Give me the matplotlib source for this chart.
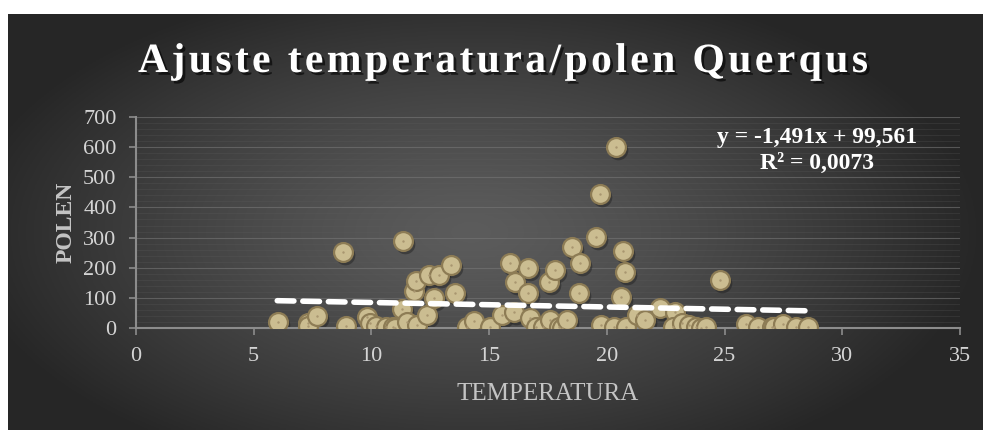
import numpy as np
import matplotlib
matplotlib.use("Agg")
import matplotlib.pyplot as plt
import matplotlib.patheffects as pe
from matplotlib import transforms

# valores (temperatura, polen)
temperatura = [6.05, 7.3, 7.3, 7.7, 8.8, 8.9, 9.8, 9.95, 10.2, 10.6, 10.9, 11.0,
               11.3, 11.35, 11.5, 11.8, 11.9, 11.95, 12.35, 12.45, 12.65, 12.85,
               13.4, 13.55, 14.05, 14.35, 15.05, 15.55, 15.9, 16.1, 16.05, 16.65,
               16.65, 16.75, 17.0, 17.3, 17.55, 17.6, 17.8, 17.95, 18.1, 18.3,
               18.5, 18.85, 18.8, 19.55, 19.7, 19.75, 20.3, 20.4, 20.7, 20.6,
               20.75, 20.8, 21.3, 21.6, 22.25, 22.9, 22.8, 23.2, 23.5, 23.8,
               24.0, 24.2, 24.8, 25.9, 26.4, 27.0, 27.1, 27.5, 28.05, 28.55]
polen = [20, 15, 5, 40, 253, 5, 37, 18, 8, 2, 4, 0,
         62, 288, 20, 123, 156, 10, 43, 176, 99, 176,
         209, 115, 2, 24, 4, 43, 215, 154, 52, 198,
         115, 32, 4, 4, 154, 27, 192, 4, 0, 27,
         270, 215, 115, 301, 445, 10, 4, 600, 256, 104,
         187, 4, 43, 27, 65, 54, 2, 18, 10, 4,
         0, 2, 159, 12, 4, 4, 2, 12, 2, 4]

pendiente = -1.491
ordenada = 99.561
x_tend = [6.0, 28.7]

titulo = "Ajuste temperatura/polen Querqus"

W, H = 991, 430
fig = plt.figure(figsize=(W / 100, H / 100), dpi=100, facecolor="white")

# fondo oscuro con degradado radial
bg = fig.add_axes([8 / W, 0, (983 - 8) / W, (H - 14) / H], zorder=0)
gx, gy = np.meshgrid(np.linspace(-1, 1, 400), np.linspace(-1, 1, 200))
r = np.sqrt(((gx + 0.05) / 1.05) ** 2 + ((gy - 0.05) / 1.25) ** 2)
r = np.clip(r, 0, 1)
c = 0.36 - 0.21 * r ** 1.3
img = np.dstack([c, c, c])
bg.imshow(img, aspect="auto", extent=[0, 1, 0, 1])
bg.axis("off")

ax = fig.add_axes([136 / W, (H - 328) / H, (960 - 136) / W, (328 - 117) / H], zorder=1)
ax.patch.set_alpha(0)

ax.set_xlim(0, 35)
ax.set_ylim(0, 700)
ax.set_xticks(range(0, 36, 5))
ax.set_yticks(range(0, 701, 100))
ax.set_yticks(range(0, 701, 20), minor=True)
ax.grid(axis="y", which="major", color="#777777", lw=0.8, alpha=0.6)
ax.grid(axis="y", which="minor", color="#5e5e5e", lw=0.5, alpha=0.35)
ax.set_axisbelow(True)

for s in ["top", "right"]:
    ax.spines[s].set_visible(False)
for s in ["left", "bottom"]:
    ax.spines[s].set_color("#8c8c8c")
    ax.spines[s].set_linewidth(1.5)

serif = "Liberation Serif"
ax.tick_params(axis="both", which="major", colors="#8c8c8c", length=5, width=1.2,
               labelcolor="#d4d4d4", labelsize=16)
ax.tick_params(axis="y", which="minor", length=0)
ax.tick_params(axis="y", pad=9)
ax.tick_params(axis="x", pad=9)
for lab in ax.get_xticklabels() + ax.get_yticklabels():
    lab.set_family(serif)

# sombra de los puntos
sombra = transforms.offset_copy(ax.transData, fig=fig, x=2, y=-3, units="dots")
ax.scatter(temperatura, polen, s=200, color="#1e1e1e", alpha=0.45, lw=0,
           transform=sombra, zorder=2)
ax.scatter(temperatura, polen, s=185, facecolor="#cbbd91", edgecolor="#8d7c55",
           lw=1.6, zorder=3)
ax.scatter(temperatura, polen, s=3, color="#a89670", lw=0, zorder=4)

y_tend = [pendiente * x + ordenada for x in x_tend]
ax.plot(x_tend, y_tend, color="white", lw=4, ls=(0, (3, 1.6)),
        solid_capstyle="round", dash_capstyle="round", zorder=5)

ax.set_xlabel("TEMPERATURA", family=serif, fontsize=18, color="#c4c4c4", labelpad=12)
ax.set_ylabel("POLEN", family=serif, fontsize=17, fontweight="bold",
              color="#c4c4c4", labelpad=5)

fig.text(817 / W, 1 - 138 / H, "y = -1,491x + 99,561", family=serif, fontsize=17,
         fontweight="bold", color="white", ha="center", va="center", zorder=6)
fig.text(817 / W, 1 - 163 / H, "R² = 0,0073", family=serif, fontsize=17,
         fontweight="bold", color="white", ha="center", va="center", zorder=6)

# titulo con espaciado entre letras
tit_kw = dict(family=serif, fontsize=30, fontweight="bold", color="white",
              va="center", zorder=6,
              path_effects=[pe.withSimplePatchShadow(offset=(2, -2),
                                                     shadow_rgbFace="black", alpha=0.6)])
renderer = fig.canvas.get_renderer()


def ancho(txt):
    t = fig.text(0, 0, txt, **tit_kw)
    w = t.get_window_extent(renderer).width
    t.remove()
    return w


ref = ancho("aa")
anchos = [ancho("a" + ch + "a") - ref for ch in titulo]
espacio = 3.4
total = sum(anchos) + espacio * (len(titulo) - 1)
x0 = 503 - total / 2
for ch, w in zip(titulo, anchos):
    if ch != " ":
        fig.text(x0 / W, 1 - 62 / H, ch, ha="left", **tit_kw)
    x0 += w + espacio

fig.savefig("out.png", dpi=100, facecolor="white")
